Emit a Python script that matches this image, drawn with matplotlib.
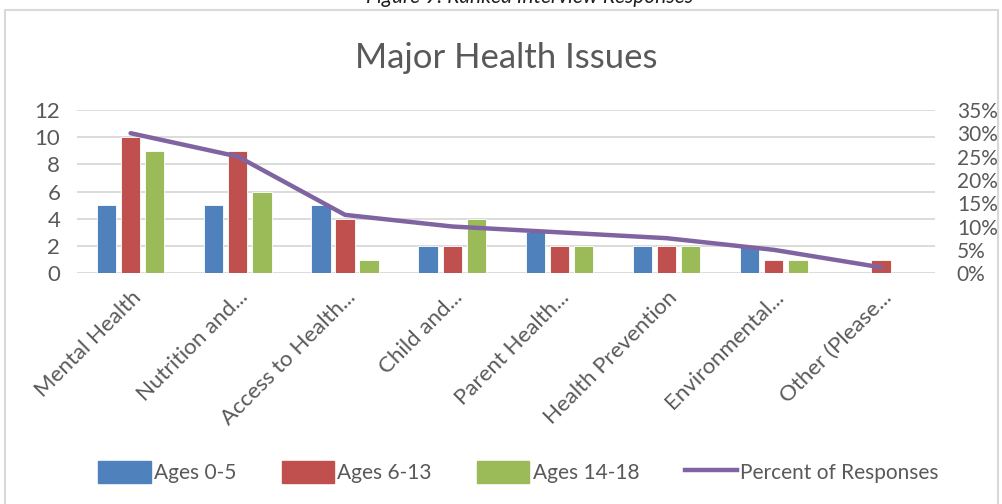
import matplotlib.pyplot as plt
import numpy as np
from matplotlib.patches import Rectangle
from matplotlib.lines import Line2D

plt.rcParams['font.family'] = ['Lato', 'DejaVu Sans']

categories = ["Mental Health", "Nutrition and...", "Access to Health...", "Child and...",
              "Parent Health...", "Health Prevention", "Environmental...", "Other (Please..."]
ages_0_5 = [5, 5, 5, 2, 3, 2, 2, 0]
ages_6_13 = [10, 9, 4, 2, 2, 2, 1, 1]
ages_14_18 = [9, 6, 1, 4, 2, 2, 1, 0]
percent = [0.30, 0.25, 0.125, 0.10, 0.0875, 0.075, 0.05, 0.0125]

blue = "#4F81BD"
red = "#C0504D"
green = "#9BBB59"
purple = "#8064A2"
txt = "#595959"

fig = plt.figure(figsize=(10.03, 5.04), dpi=100)

# chart frame and the caption above it
fig.patches.append(Rectangle((5 / 1003, -0.01), 993 / 1003, 1 - 10 / 504 + 0.01,
                             transform=fig.transFigure, fill=False,
                             edgecolor="#D9D9D9", lw=1.5))
fig.text(0.528, 1 - 3 / 504, "Figure 9: Ranked Interview Responses",
         ha="center", va="baseline", fontsize=15, style="italic", color="#1F1F1F")

ax = fig.add_axes([0.0768, 0.458, 0.855, 0.324])
x = np.arange(len(categories))
w = 0.18
step = 0.225
ax.bar(x - step, ages_0_5, w, color=blue, edgecolor="white", lw=0.6, label="Ages 0-5", zorder=2)
ax.bar(x, ages_6_13, w, color=red, edgecolor="white", lw=0.6, label="Ages 6-13", zorder=2)
ax.bar(x + step, ages_14_18, w, color=green, edgecolor="white", lw=0.6, label="Ages 14-18", zorder=2)

ax.set_xlim(-0.5, len(categories) - 0.5)
ax.set_ylim(0, 12)
ax.set_yticks(range(0, 13, 2))
ax.grid(axis="y", color="#D9D9D9", lw=1.3, zorder=0)
ax.set_axisbelow(True)
for s in ax.spines.values():
    s.set_visible(False)
ax.tick_params(length=0, labelsize=16, colors=txt, pad=12)
ax.set_xticks(x)
ax.set_xticklabels(categories, rotation=45, ha="right", rotation_mode="anchor",
                   fontsize=16, color=txt)
ax.tick_params(axis="x", pad=10)

ax2 = ax.twinx()
ax2.plot(x, percent, color=purple, lw=3.2, solid_capstyle="round", zorder=3)
ax2.set_ylim(0, 0.35)
ax2.set_yticks(np.arange(0, 0.351, 0.05))
ax2.set_yticklabels([f"{int(round(v * 100))}%" for v in np.arange(0, 0.351, 0.05)])
for s in ax2.spines.values():
    s.set_visible(False)
ax2.tick_params(length=0, labelsize=15, colors=txt, pad=16)

ax.set_title("Major Health Issues", fontsize=25, color=txt, pad=30)

handles = [Rectangle((0, 0), 1, 1, color=blue), Rectangle((0, 0), 1, 1, color=red),
           Rectangle((0, 0), 1, 1, color=green), Line2D([], [], color=purple, lw=3.2)]
fig.legend(handles, ["Ages 0-5", "Ages 6-13", "Ages 14-18", "Percent of Responses"],
           loc="center", bbox_to_anchor=(0.517, 0.063), ncol=4, frameon=False,
           fontsize=15, labelcolor=txt, handlelength=2.5, handleheight=1.2,
           handletextpad=0.15, columnspacing=2.2)

fig.savefig("out.png", dpi=100)
